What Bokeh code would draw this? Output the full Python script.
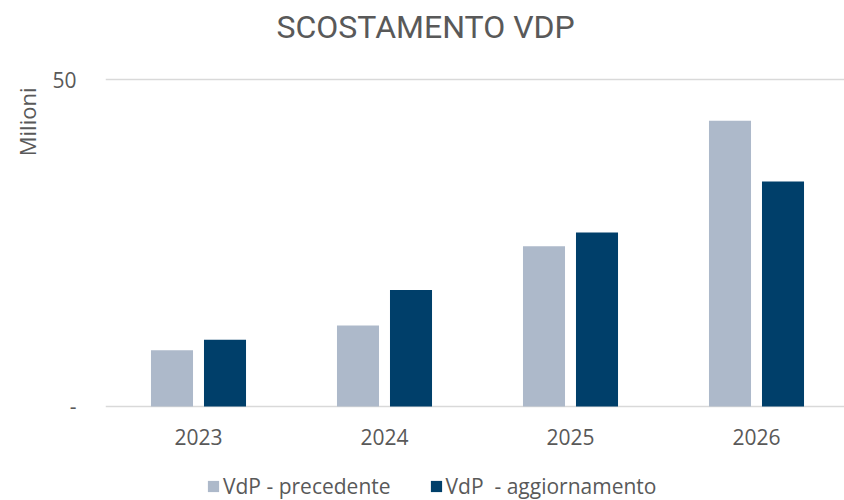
from bokeh.plotting import figure
from bokeh.layouts import column
from bokeh.models import (ColumnDataSource, Range1d, FixedTicker, Title, Legend, LegendItem, Label)
from bokeh.transform import dodge
from bokeh.embed import file_html
from bokeh.resources import INLINE

# ---- data ----
years = ["2023", "2024", "2025", "2026"]
vdp_precedente = [8.6, 12.4, 24.5, 43.7]
vdp_aggiornamento = [10.2, 17.8, 26.6, 34.4]
series_names = ["VdP - precedente", "VdP  - aggiornamento"]
y_ticks = [0, 50]
y_tick_labels = ["-", "50"]
title_text = "SCOSTAMENTO VDP"
y_name = "Milioni"

C_PREC = "#ADB9CA"
C_AGG = "#003F6A"
TXT = "#595959"
GRID = "#D9D9D9"

xpos = [i + 0.5 for i in range(len(years))]
src = ColumnDataSource(dict(x=xpos, prec=vdp_precedente, agg=vdp_aggiornamento))

W = 844
H_TITLE, H_MAIN, H_LEG = 50, 422, 28


def strip(h):
    f = figure(width=W, height=h, output_backend="svg", toolbar_location=None,
               x_range=Range1d(-10, -9), y_range=Range1d(0, 1),
               x_axis_type=None, y_axis_type=None,
               min_border_left=0, min_border_right=0, min_border_top=0, min_border_bottom=0)
    f.outline_line_color = None
    f.xgrid.visible = False
    f.ygrid.visible = False
    return f


# ---- title strip ----
top = strip(H_TITLE)
top.add_layout(Label(x=171, y=24, x_units="screen", y_units="screen", text=title_text,
                     text_align="left", text_baseline="alphabetic",
                     text_font="Roboto", text_font_size="32px", text_color=TXT))

# ---- main chart ----
p = figure(width=W, height=H_MAIN, output_backend="svg", toolbar_location=None,
           x_range=Range1d(0, 739 / 186), y_range=Range1d(-0.46, 50.46),
           min_border_left=105, min_border_right=0, min_border_top=26, min_border_bottom=63)
p.outline_line_color = None
p.background_fill_color = "white"
p.border_fill_color = "white"

bw = 0.226
off = 0.1425
p.vbar(x=dodge("x", -off, range=p.x_range), top="prec", width=bw, bottom=0,
       source=src, fill_color=C_PREC, line_color=None)
p.vbar(x=dodge("x", off, range=p.x_range), top="agg", width=bw, bottom=0,
       source=src, fill_color=C_AGG, line_color=None)

p.xaxis.ticker = FixedTicker(ticks=xpos)
p.xaxis.major_label_overrides = {x: y for x, y in zip(xpos, years)}
p.xaxis.axis_line_color = None
p.xaxis.major_tick_line_color = None
p.xaxis.minor_tick_line_color = None
p.xaxis.major_label_standoff = 13
p.xaxis.major_label_text_font = "Open Sans"
p.xaxis.major_label_text_font_size = "21px"
p.xaxis.major_label_text_color = TXT

yticker = FixedTicker(ticks=y_ticks)
p.yaxis.ticker = yticker
p.yaxis.major_label_overrides = {t: l for t, l in zip(y_ticks, y_tick_labels)}
p.yaxis.axis_line_color = None
p.yaxis.major_tick_line_color = None
p.yaxis.minor_tick_line_color = None
p.yaxis.major_tick_out = 0
p.yaxis.major_label_standoff = 29
p.yaxis.major_label_text_font = "Open Sans"
p.yaxis.major_label_text_font_size = "21px"
p.yaxis.major_label_text_color = TXT

p.xgrid.grid_line_color = None
p.ygrid.ticker = yticker
p.ygrid.grid_line_color = GRID
p.ygrid.grid_line_width = 1.6

p.add_layout(Title(text=y_name, align="right", offset=11, standoff=14, vertical_align="middle",
                   text_font="Open Sans", text_font_style="normal",
                   text_font_size="22px", text_color=TXT), "left")

# ---- legend strip ----
leg = strip(H_LEG)
l1 = leg.vbar(x="x", top="prec", width=0.1, source=src, fill_color=C_PREC, line_color=None)
l2 = leg.vbar(x="x", top="agg", width=0.1, source=src, fill_color=C_AGG, line_color=None)
legend = Legend(items=[LegendItem(label=series_names[0], renderers=[l1]),
                       LegendItem(label=series_names[1], renderers=[l2])],
                location=(101, 0), orientation="horizontal",
                glyph_width=14, glyph_height=14, label_standoff=3, spacing=38,
                padding=0, margin=0, border_line_color=None, background_fill_alpha=0,
                label_text_font="Open Sans", label_text_font_size="21px",
                label_text_color=TXT, label_height=20)
leg.add_layout(legend, "center")

layout = column(top, p, leg, spacing=0)
open("out.html", "w").write(file_html(layout, INLINE))
